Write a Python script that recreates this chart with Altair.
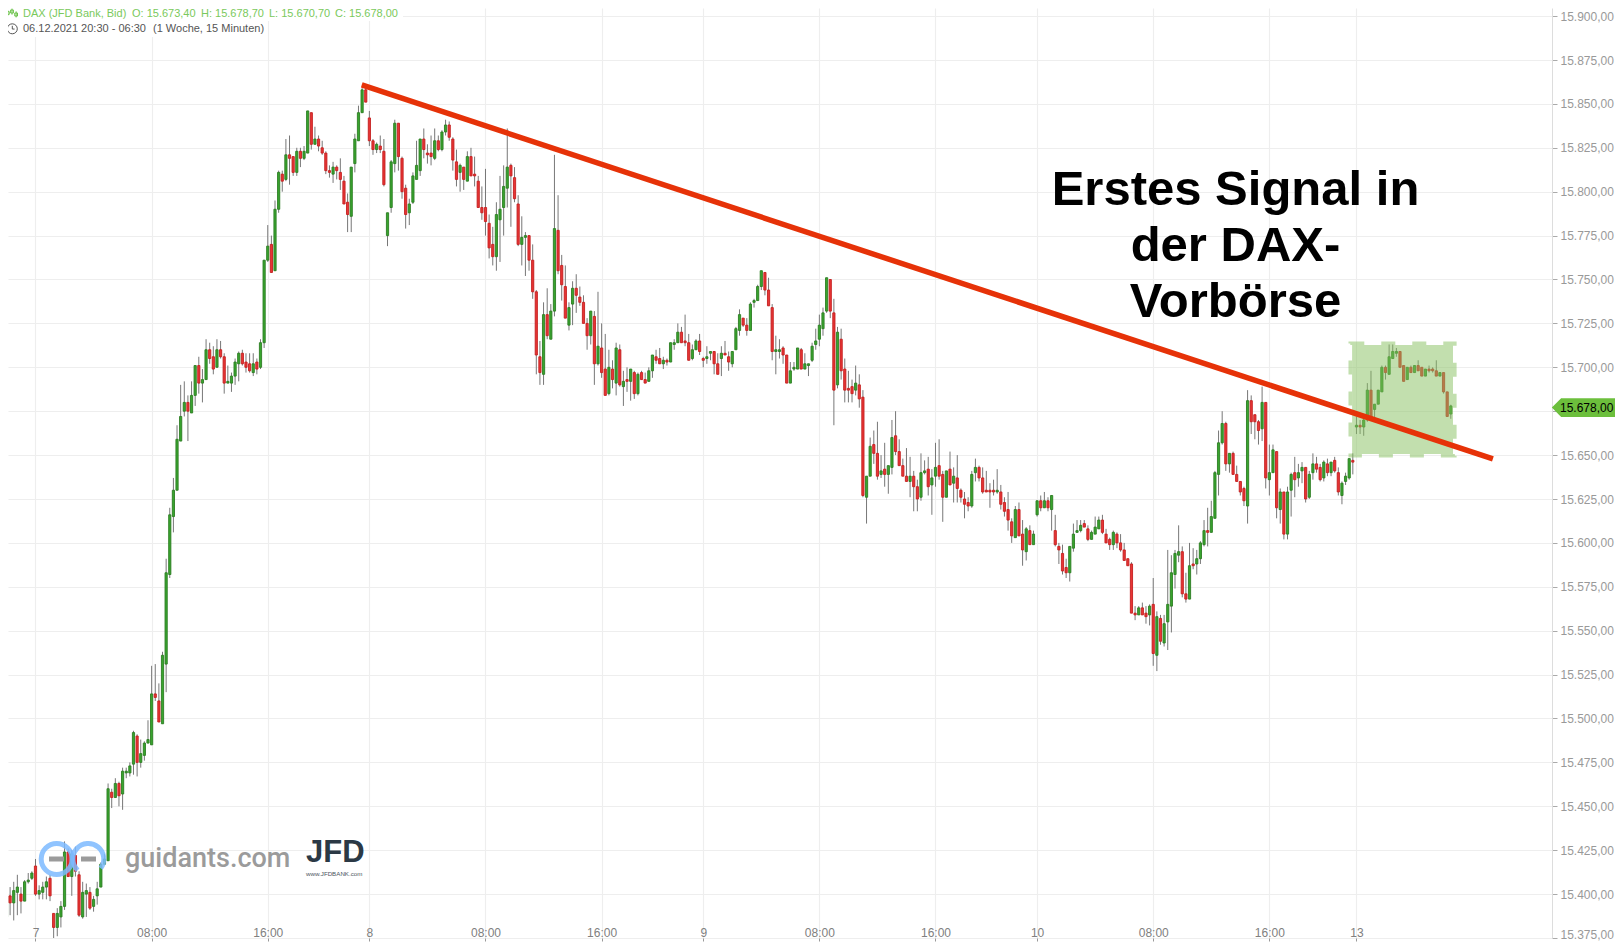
import altair as alt
import pandas as pd

BASE = 15000
first_index = -10

highs = [421,400,400,404,407,411,404,408,412,413,
420,405,407,410,411,389,392,396,430,426,
425,427,413,407,406,404,399,407,418,423,
463,460,466,464,472,472,475,493,491,488,
487,499,530,531,520,538,591,620,637,667,
690,692,684,692,701,706,699,716,714,712,
716,715,708,701,697,705,709,710,708,708,
708,705,716,761,781,775,795,812,812,830,
832,820,825,825,826,846,845,837,832,829,
823,815,817,815,819,809,799,814,833,849,
859,860,846,830,828,832,830,788,818,841,
839,820,804,796,811,829,830,836,827,832,
836,832,835,841,840,831,824,816,814,823,
825,820,809,803,813,787,780,794,809,815,
836,816,814,798,786,777,775,770,744,715,
737,745,736,821,798,764,758,737,749,753,
746,741,728,732,732,743,725,719,710,704,
714,713,698,700,699,698,697,698,697,700,
707,710,711,706,705,714,716,725,723,730,
719,713,716,719,706,712,709,709,708,712,
715,709,709,723,733,728,728,737,739,747,
755,754,751,736,718,716,712,707,703,703,
711,711,708,702,714,722,730,734,751,750,
739,723,722,705,698,693,701,696,687,638,
660,664,669,650,657,644,670,675,659,648,
654,649,641,636,651,647,649,642,657,659,
641,641,652,643,650,631,629,626,641,648,
644,643,641,634,636,642,633,626,629,614,
621,623,613,609,610,607,624,627,629,626,
627,616,600,599,591,598,611,613,613,613,
610,607,615,615,616,608,603,607,606,605,
600,591,589,564,564,566,564,565,580,561,
559,559,596,593,596,610,598,583,600,597,
596,601,613,620,624,641,664,675,669,651,
652,644,635,632,687,684,673,670,689,680,
656,656,652,631,629,632,640,649,645,646,
643,641,651,649,645,647,648,646,649,643,
635,640,648,651,672,670,672,691,698,679,
687,701,701,713,713,711,709,701,700,701,
701,704,700,699,701,700,704,697,697,686,
678.7]

body_tops = [416,395,399,399,402,404,400,407,408,412,
416,402,404,407,409,389,389,393,424,424,
423,422,411,401,402,401,397,403,417,420,
460,458,463,463,470,470,473,492,490,480,
486,488,514,514,510,536,583,616,630,659,
672,680,680,684,701,701,693,710,710,706,
710,710,706,692,695,703,708,708,703,702,
702,703,714,761,769,770,790,811,810,821,
821,820,823,823,823,846,845,830,830,825,
822,812,814,814,811,806,794,814,830,845,
858,858,842,829,827,826,823,788,817,839,
839,819,802,793,809,815,830,830,822,822,
829,829,834,838,838,830,817,815,814,820,
820,810,806,791,791,782,770,787,790,803,
814,815,808,793,774,775,775,761,743,706,
730,730,732,779,778,758,746,734,745,745,
740,737,725,732,729,712,711,699,700,699,
711,710,692,693,699,697,696,697,693,698,
707,706,705,704,704,714,714,720,720,715,
714,710,715,715,705,706,709,709,702,708,
708,706,709,722,730,728,724,736,738,746,
755,754,744,734,710,710,711,707,698,700,
711,710,702,702,712,715,724,731,751,750,
731,720,716,699,688,689,691,690,683,638,
655,656,651,641,642,644,660,661,652,644,
638,638,638,632,640,641,642,637,643,644,
639,641,642,638,637,630,625,623,639,643,
643,637,630,630,630,630,629,623,619,612,
619,619,605,608,607,605,624,624,624,624,
627,607,598,594,586,598,605,607,610,611,
608,606,609,613,613,605,602,606,605,600,
596,591,588,560,563,563,560,564,565,558,
557,554,565,583,594,595,595,571,587,588,
591,600,607,607,615,640,657,668,668,651,
651,639,635,631,681,681,673,669,680,680,
640,653,652,629,629,629,639,640,640,643,
643,639,645,645,643,646,645,646,647,640,
634,638,648,647,667,667,670,687,687,679,
687,700,700,706,709,709,709,701,700,700,
701,701,700,699,699,699,698,697,697,686,
678]

body_bottoms = [395,388,387,395,395,401,396,396,407,409,
400,400,401,404,399,381,381,387,393,410,
410,413,388,387,400,392,393,399,404,417,
419,455,455,456,457,469,469,474,475,475,
479,486,485,512,498,497,531,582,615,630,
658,675,675,674,684,691,691,693,705,699,
700,706,691,691,691,695,702,702,700,698,
697,699,700,714,761,754,755,790,806,807,
819,811,811,819,819,822,827,827,826,822,
812,811,810,812,807,793,787,786,816,829,
845,851,829,824,824,824,804,775,791,816,
820,800,787,788,794,807,812,824,821,820,
819,824,824,834,831,818,807,811,807,806,
809,809,791,788,783,768,763,763,784,791,
802,809,796,770,770,774,761,743,707,697,
696,718,716,732,755,747,728,724,736,741,
737,725,718,718,702,702,697,684,685,693,
691,690,689,692,692,685,685,693,691,692,
698,704,702,702,703,703,713,714,714,714,
704,705,710,709,704,705,708,702,696,705,
707,703,702,710,721,724,721,721,737,738,
746,744,735,709,709,709,707,691,691,699,
699,699,699,701,704,713,716,722,732,732,
687,690,698,687,687,685,687,682,627,626,
638,651,638,639,639,639,643,652,644,638,
635,635,632,625,626,640,632,633,638,638,
626,626,633,634,631,626,622,621,621,640,
637,629,629,629,629,629,622,618,613,604,
603,604,596,595,599,599,616,620,620,620,
619,599,596,584,583,583,597,606,607,609,
602,602,605,608,606,600,599,599,600,596,
590,587,560,559,559,559,558,559,537,536,
544,543,555,564,582,593,571,568,568,587,
588,591,599,606,606,614,639,657,645,645,
639,635,629,624,621,669,669,664,665,637,
636,640,620,619,605,605,630,636,637,641,
625,626,640,642,636,637,640,640,641,629,
627,635,637,646,666,666,666,670,671,676,
679,686,697,696,705,708,700,692,693,697,
697,698,695,695,698,698,695,695,686,672,
673.4]

lows = [392,383,381,388,385,388,389,396,406,408,
399,397,397,397,396,371,376,381,391,410,
399,410,387,386,387,391,390,394,404,417,
419,449,455,450,448,466,467,468,467,472,
476,486,485,510,498,497,515,580,606,630,
658,672,658,674,678,685,680,693,702,696,
700,705,685,691,686,690,692,701,697,697,
695,696,699,711,760,754,755,788,800,806,
804,809,809,814,818,822,824,827,823,821,
810,808,805,807,801,793,777,777,811,829,
845,851,826,821,822,822,803,769,788,811,
812,796,779,781,793,807,809,819,816,815,
818,823,823,832,829,812,803,800,801,806,
809,803,791,784,775,762,758,755,760,775,
791,780,794,769,758,752,755,739,696,690,
690,716,716,729,753,738,728,721,724,731,
735,725,710,713,690,701,694,684,684,688,
684,689,678,686,681,682,684,693,691,692,
694,702,702,699,701,703,710,714,714,712,
704,704,710,707,700,702,704,696,696,695,
707,698,700,710,718,723,718,721,734,738,
744,741,735,704,696,705,702,691,691,698,
699,699,699,695,703,710,712,718,731,728,
667,688,693,680,680,680,684,677,626,611,
638,645,636,637,632,628,639,650,644,638,
635,626,618,618,624,639,627,616,632,636,
612,626,633,623,623,623,614,618,620,635,
635,628,629,620,627,628,619,615,607,600,
603,604,587,590,599,599,615,618,620,618,
607,598,588,582,580,578,595,606,606,609,
601,602,605,608,605,600,596,596,597,595,
590,587,560,556,559,559,554,553,530,527,
542,541,539,549,574,589,569,566,568,585,
582,588,598,598,606,614,627,656,641,640,
639,635,627,621,611,662,659,656,658,631,
627,640,614,611,602,602,615,626,632,634,
623,625,636,640,635,635,638,638,640,627,
622,633,636,639,662,662,661,669,671,671,
679,686,693,696,705,706,700,692,693,697,
697,698,695,695,697,697,695,695,685,672,
670.7]

directions = ("RRGRGGRGGG" "RGGGRRGGGR" "GRRGGRGGGG" "GRGRGGGGRG" "GGGRRGGGGG"
"GGRGGRGGRR" "GRRGGGGRRR" "GRGGGRGGRG" "RRGRGGRGRR" "RRGRRRRGGG"
"GRRRGRRGGG" "RRRGGGGRRR" "GRGGRRRGRG" "RRRRRRRGGG" "GRRRGGRRRR"
"GRGGRRRGGR" "RRRGRGRRGR" "GRGRGRGRRG" "GRRGRGGGRR" "RGGRRGGRRG"
"RRGGGRRGGG" "GRRRGGRRGG" "GRGGGGGGGR" "RGRRRRGRRG" "GRRGRGGRRR"
"RGRRGGRGGR" "RGRGRRRRGG" "RRRRRGRRRR" "GRRGRGGRGR" "GRRRRGGGGR"
"RGGGRRRGRR" "RRRRGRRGRG" "RGGGGGRRGR" "GGGRGGGGRG" "RRRRGRRRGR"
"GGRGRGGRGG" "RGGRRGRGRR" "GGGRGRGGRG" "GGRGGGRRGR" "GRRGRRRGRR" "G")

tick_index = [0, 32, 64, 92, 124, 156, 184, 216, 248, 276, 308, 340, 364]
tick_label = ["7", "08:00", "16:00", "8", "08:00", "16:00", "9", "08:00", "16:00", "10", "08:00", "16:00", "13"]
price_ticks = list(range(15375, 15901, 25))

trend_index = [89.9, 401.6]
trend_price = [15860.8, 15647.8]
zone_index = [362.8, 390.6]
zone_price = [15712.7, 15650.6]

df = pd.DataFrame({
    "i": [first_index + k for k in range(len(highs))],
    "high": [BASE + v for v in highs],
    "top": [BASE + v for v in body_tops],
    "bottom": [BASE + v for v in body_bottoms],
    "low": [BASE + v for v in lows],
    "dir": list(directions),
})

W, H = 1544, 930
X_DOM = [-27.5 / 3.629, (1544 - 27.5) / 3.629]
Y_DOM = [15375, 15375 + 930 / 1.756]
xs = alt.Scale(domain=X_DOM, nice=False, zero=False, padding=0)
ys = alt.Scale(domain=Y_DOM, nice=False, zero=False, padding=0)
FONT = "Liberation Sans"

label_map = "{" + ",".join(f"'{a}':'{b}'" for a, b in zip(tick_index, tick_label)) + "}"
de_fmt = ("datum.value == 15675 ? '' : "
          "replace(replace(replace(format(datum.value, ',.2f'), ',', '#'), '.', ','), '#', '.')")

x_axis = alt.Axis(values=tick_index, labelExpr=f"{label_map}[datum.value]", title=None, domain=False,
                  grid=True, gridColor="#eeeeee", gridWidth=1.2, tickSize=3, tickColor="#999999",
                  labelPadding=-14, labelColor="#808080", labelFontSize=12, labelFont=FONT,
                  labelOverlap=False, labelFlush=False)
y_axis = alt.Axis(values=price_ticks, labelExpr=de_fmt, title=None, orient="right", domain=True,
                  domainColor="#dddddd", grid=True, gridColor="#eeeeee", gridWidth=1.2, tickSize=5,
                  tickColor="#aaaaaa", labelPadding=3, labelColor="#999999", labelFontSize=12,
                  labelFont=FONT, labelOverlap=False, labelFlush=False,
                  labelBaseline={"expr": "datum.value == 15375 ? 'alphabetic' : 'middle'"})

one = alt.Data(values=[{"a": 0}])

def px(v):
    return alt.value(v - 8)

def text(s, x, y, size=11, color="#000000", align="left", weight="normal", font=FONT, **kw):
    return alt.Chart(one).mark_text(align=align, baseline="middle", fontSize=size, color=color,
                                    fontWeight=weight, font=font, **kw).encode(
        x=px(x), y=px(y), text=alt.value(s))

def box(x1, x2, y1, y2, color, **kw):
    return alt.Chart(one).mark_rect(color=color, **kw).encode(x=px(x1), x2=px(x2), y=px(y1), y2=px(y2))

def ring(x, y, color, start, end):
    return alt.Chart(one).mark_arc(radius=18, radius2=13, theta=start, theta2=end, color=color,
                                   opacity=0.85).encode(x=px(x), y=px(y))

def glyph(path, x, y, size, color, filled=False):
    return alt.Chart(one).mark_point(shape=path, size=size, filled=filled, color=color, opacity=1,
                                     strokeWidth=1).encode(x=px(x), y=px(y))

base = alt.Chart(df)
wicks = base.mark_rule(color="#777777", strokeWidth=1, clip=True).encode(
    x=alt.X("i:Q", scale=xs, axis=x_axis),
    y=alt.Y("low:Q", scale=ys, axis=y_axis),
    y2="high:Q",
)
dir_fill = alt.Scale(domain=["G", "R"], range=["#38a52e", "#e83535"])
dir_line = alt.Scale(domain=["G", "R"], range=["#2c7d22", "#c41f1f"])
bodies = base.mark_bar(size=2.2, strokeWidth=0.9, clip=True).encode(
    x=alt.X("i:Q", scale=xs),
    y=alt.Y("bottom:Q", scale=ys),
    y2="top:Q",
    fill=alt.Fill("dir:N", scale=dir_fill, legend=None),
    stroke=alt.Stroke("dir:N", scale=dir_line, legend=None),
)

zone_df = pd.DataFrame({"x": [zone_index[0]], "x2": [zone_index[1]], "y": [zone_price[0]], "y2": [zone_price[1]]})
zone_out = pd.DataFrame({"x": [zone_index[0] - 0.5], "x2": [zone_index[1] + 0.5],
                         "y": [zone_price[0] + 1], "y2": [zone_price[1] - 1]})
zone_fill = alt.Chart(zone_df).mark_rect(color="#85bf5d", opacity=0.5).encode(
    x=alt.X("x:Q", scale=xs), x2="x2:Q", y=alt.Y("y:Q", scale=ys), y2="y2:Q")
zone_edge = alt.Chart(zone_out).mark_rect(fillOpacity=0, fill="#85bf5d", stroke="#85bf5d", strokeOpacity=0.5,
                                          strokeWidth=3.6, strokeDash=[14, 17]).encode(
    x=alt.X("x:Q", scale=xs), x2="x2:Q", y=alt.Y("y:Q", scale=ys), y2="y2:Q")

trend = alt.Chart(pd.DataFrame({"i": trend_index, "p": trend_price})).mark_line(
    color="#e63208", strokeWidth=5.5).encode(x=alt.X("i:Q", scale=xs), y=alt.Y("p:Q", scale=ys))

layers = [
    wicks, bodies,
    box(8, 403, 8, 21, "#ffffff"),
    box(8, 267, 21, 37, "#ffffff"),
    ring(56.7, 859, "#7dbaff", 0, 6.2832),
    ring(88.3, 859, "#7dbaff", 3.9, 8.5),
    box(49, 64, 856.5, 861.5, "#9b9b9b"),
    box(81, 96, 856.5, 861.5, "#9b9b9b"),
    text("guidants.com", 125, 859, size=27, color="#9b9b9b", font="Roboto", weight=500),
    text("JFD", 306, 853, size=31, color="#2b3945", weight="bold"),
    text("www.JFDBANK.com", 306, 874, size=6.2, color="#4a5560"),
    zone_fill, zone_edge, trend,
    glyph("M-.75,-.45V.45M-1,-.25H-.5V.25H-1ZM0,-.8V.3M-.25,-.55H.25V0H-.25ZM.75,-.3V.8M.5,0H1V.55H.5Z", 12, 13, 121, "#6cc24a"),
    text("DAX (JFD Bank, Bid)", 23, 13.5, color="#7ac95c"),
    text("O: 15.673,40", 132, 13.5, color="#7ac95c"),
    text("H: 15.678,70", 201, 13.5, color="#7ac95c"),
    text("L: 15.670,70", 269, 13.5, color="#7ac95c"),
    text("C: 15.678,00", 335, 13.5, color="#7ac95c"),
    glyph("M1,0A1,1,0,1,1,-1,0A1,1,0,1,1,1,0ZM0,-.6V.05H.45", 12.3, 28.8, 100, "#555555"),
    text("06.12.2021 20:30 - 06:30", 23, 29, color="#555555"),
    text("(1 Woche, 15 Minuten)", 153, 29, color="#555555"),
    text("Erstes Signal in", 1235.5, 189.5, size=49, align="center", weight="bold"),
    text("der DAX-", 1235.5, 245.5, size=49, align="center", weight="bold"),
    text("Vorbörse", 1235.5, 302, size=49, align="center", weight="bold"),
    box(1561, 1615, 398.3, 417, "#6cbf3c"),
    glyph("M.5,-1L.5,1L-.5,0Z", 1556.5, 407.6, 346, "#6cbf3c", filled=True),
    text("15.678,00", 1560, 408, size=12, color="#000000"),
]

chart = alt.layer(*layers).properties(
    width=W, height=H,
    autosize=alt.AutoSizeParams(type="none"),
    padding={"left": 0, "top": 0, "right": 63, "bottom": 4},
    background="#ffffff",
).configure_view(stroke=None)

chart.save("out.html", embed_options={"renderer": "svg", "actions": False})
